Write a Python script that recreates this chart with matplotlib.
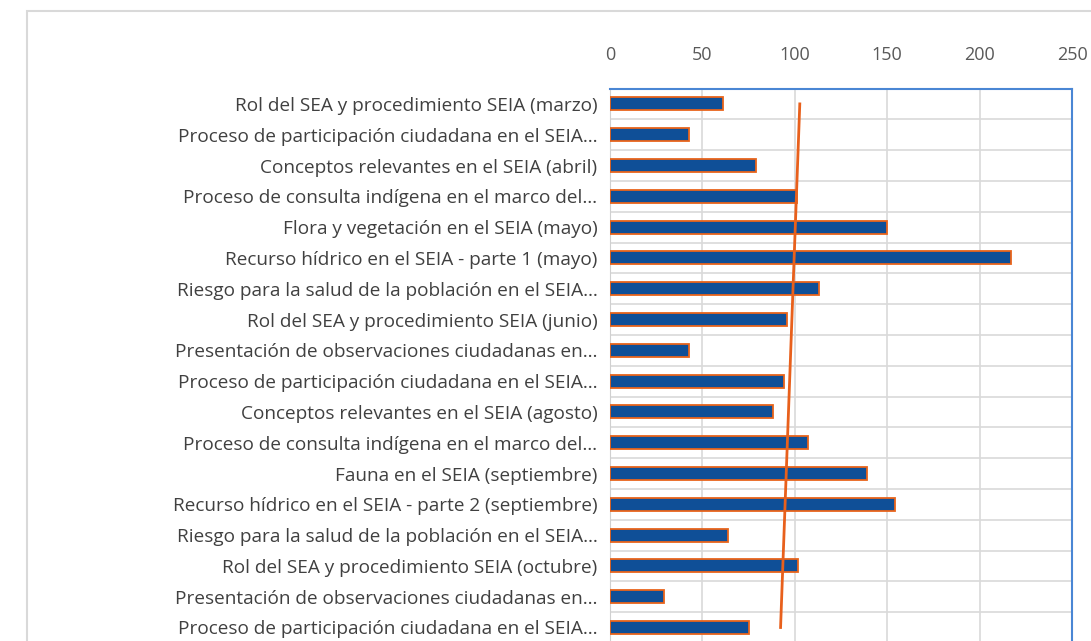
import numpy as np
import matplotlib.pyplot as plt
from matplotlib.patches import Rectangle

labels = [
    "Rol del SEA y procedimiento SEIA (marzo)",
    "Proceso de participación ciudadana en el SEIA…",
    "Conceptos relevantes en el SEIA (abril)",
    "Proceso de consulta indígena en el marco del…",
    "Flora y vegetación en el SEIA (mayo)",
    "Recurso hídrico en el SEIA - parte 1 (mayo)",
    "Riesgo para la salud de la población en el SEIA…",
    "Rol del SEA y procedimiento SEIA (junio)",
    "Presentación de observaciones ciudadanas en…",
    "Proceso de participación ciudadana en el SEIA…",
    "Conceptos relevantes en el SEIA (agosto)",
    "Proceso de consulta indígena en el marco del…",
    "Fauna en el SEIA (septiembre)",
    "Recurso hídrico en el SEIA - parte 2 (septiembre)",
    "Riesgo para la salud de la población en el SEIA…",
    "Rol del SEA y procedimiento SEIA (octubre)",
    "Presentación de observaciones ciudadanas en…",
    "Proceso de participación ciudadana en el SEIA…",
]
values = [61, 43, 79, 101, 150, 217, 113, 96, 43, 94, 88, 107, 139, 154, 64, 102, 29, 75]
xticks = [0, 50, 100, 150, 200, 250]

plt.rcParams['font.family'] = ['Open Sans', 'DejaVu Sans']

W, H = 1091, 641
fig = plt.figure(figsize=(W / 100, H / 100), dpi=100)

# outer chart border
fig.patches.append(Rectangle((27 / W, -0.1), 1.1, (H - 11) / H + 0.1,
                             transform=fig.transFigure, fill=False,
                             edgecolor="#d9d9d9", linewidth=1.5))

n = len(values)
row = 30.8
top = 88.5
left, right = 610, 1072
bottom_px = top + row * n
ax = fig.add_axes([left / W, 1 - bottom_px / H, (right - left) / W, row * n / H])

y = np.arange(n)
ax.barh(y, values, height=0.42, color="#0f4f97", edgecolor="#e8641b", linewidth=1.3, zorder=3)

# linear trendline
coef = np.polyfit(y, values, 1)
trend = np.polyval(coef, y)
ax.plot([trend[0], trend[-1]], [y[0], y[-1]], color="#e8601c", linewidth=2, zorder=4)

ax.set_xlim(0, 250)
ax.set_ylim(n - 0.5, -0.5)
ax.set_xticks(xticks)
ax.xaxis.tick_top()
ax.tick_params(axis="x", length=0, pad=18, labelsize=13, labelcolor="#595959")
ax.set_yticks(y)
ax.set_yticklabels(labels)
ax.tick_params(axis="y", length=0, pad=9, labelsize=13.7, labelcolor="#404040")

ax.set_yticks(np.arange(n + 1) - 0.5, minor=True)
ax.tick_params(axis="y", which="minor", length=0)
ax.grid(axis="x", color="#d9d9d9", linewidth=1.2, zorder=0)
ax.grid(axis="y", which="minor", color="#d9d9d9", linewidth=1.2, zorder=0)
ax.grid(axis="y", which="major", visible=False)

ax.spines["top"].set_color("#4a86d4")
ax.spines["right"].set_color("#4a86d4")
ax.spines["top"].set_linewidth(1.5)
ax.spines["right"].set_linewidth(1.5)
ax.spines["left"].set_color("#d0d0d0")
ax.spines["bottom"].set_visible(False)

fig.savefig("out.png", dpi=100)
